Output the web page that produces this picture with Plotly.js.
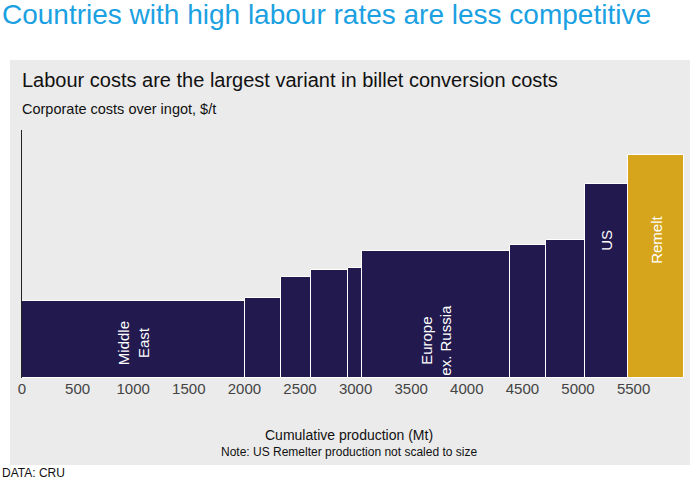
<!DOCTYPE html>
<html><head><meta charset="utf-8">
<script src="https://cdn.plot.ly/plotly-3.0.1.min.js"></script>
<style>body{margin:0;background:#fff}</style></head>
<body><div id="c" style="width:698px;height:480px"></div>
<script>
const edges = [0, 2005, 2329, 2599, 2932, 3058, 4388, 4712, 5063, 5450, 5953];
const costs = [77, 80, 101, 108, 110, 127, 133, 138, 194, 223];
const colors = ['#22194f','#22194f','#22194f','#22194f','#22194f','#22194f','#22194f','#22194f','#22194f','#d6a51b'];
const tickVals = [0,500,1000,1500,2000,2500,3000,3500,4000,4500,5000,5500];
const labels = [
  {text:'Middle<br>East', x:1000, y:35},
  {text:'Europe<br>ex. Russia', x:3720, y:38},
  {text:'US', x:5250, y:138},
  {text:'Remelt', x:5700, y:138}
];
const centers = costs.map((_, i) => (edges[i] + edges[i+1]) / 2);
const widths = costs.map((_, i) => edges[i+1] - edges[i]);
const f = 'Arial, Liberation Sans, sans-serif';
const ann = labels.map(l => ({x:l.x, y:l.y, xref:'x', yref:'y', text:l.text, textangle:-90, showarrow:false, font:{family:f, size:15, color:'#fff'}}));
ann.push(
  {xref:'paper', yref:'paper', x:-0.003, y:1.2, xanchor:'left', yanchor:'middle', text:'Labour costs are the largest variant in billet conversion costs', showarrow:false, font:{family:f, size:20, color:'#111'}},
  {xref:'paper', yref:'paper', x:-0.003, y:1.085, xanchor:'left', yanchor:'middle', text:'Corporate costs over ingot, $/t', showarrow:false, font:{family:f, size:14.5, color:'#111'}},
  {xref:'paper', yref:'paper', x:0.49, y:-0.23, xanchor:'center', yanchor:'middle', text:'Cumulative production (Mt)', showarrow:false, font:{family:f, size:14, color:'#111'}},
  {xref:'paper', yref:'paper', x:0.49, y:-0.30, xanchor:'center', yanchor:'middle', text:'Note: US Remelter production not scaled to size', showarrow:false, font:{family:f, size:12, color:'#111'}},
  {xref:'paper', yref:'paper', x:-0.033, y:-0.385, xanchor:'left', yanchor:'middle', text:'DATA: CRU', showarrow:false, font:{family:f, size:12, color:'#111'}},
  {xref:'paper', yref:'paper', x:-0.033, y:1.465, xanchor:'left', yanchor:'middle', text:'Countries with high labour rates are less competitive', showarrow:false, font:{family:f, size:28, color:'#1ba1e2'}}
);
Plotly.newPlot('c', [{
  type:'bar', x:centers, y:costs, width:widths, marker:{color:colors, line:{color:'#fff', width:1}}, hoverinfo:'none'
}], {
  width:698, height:480,
  margin:{l:22, r:8, t:130, b:102},
  paper_bgcolor:'#fff', plot_bgcolor:'rgba(0,0,0,0)',
  showlegend:false, bargap:0,
  xaxis:{range:[0,6007], tickvals:tickVals, showgrid:false, zeroline:false, showline:false, ticks:'', tickfont:{family:f, size:15, color:'#444'}},
  yaxis:{range:[0,248], showgrid:false, zeroline:false, showticklabels:false, showline:true, linecolor:'#222', linewidth:1},
  shapes:[{type:'rect', xref:'paper', yref:'paper', x0:-0.018, x1:1, y0:-0.351, y1:1.282, fillcolor:'#ebebeb', line:{width:0}, layer:'below'}],
  annotations:ann
}, {displayModeBar:false});
</script></body></html>
